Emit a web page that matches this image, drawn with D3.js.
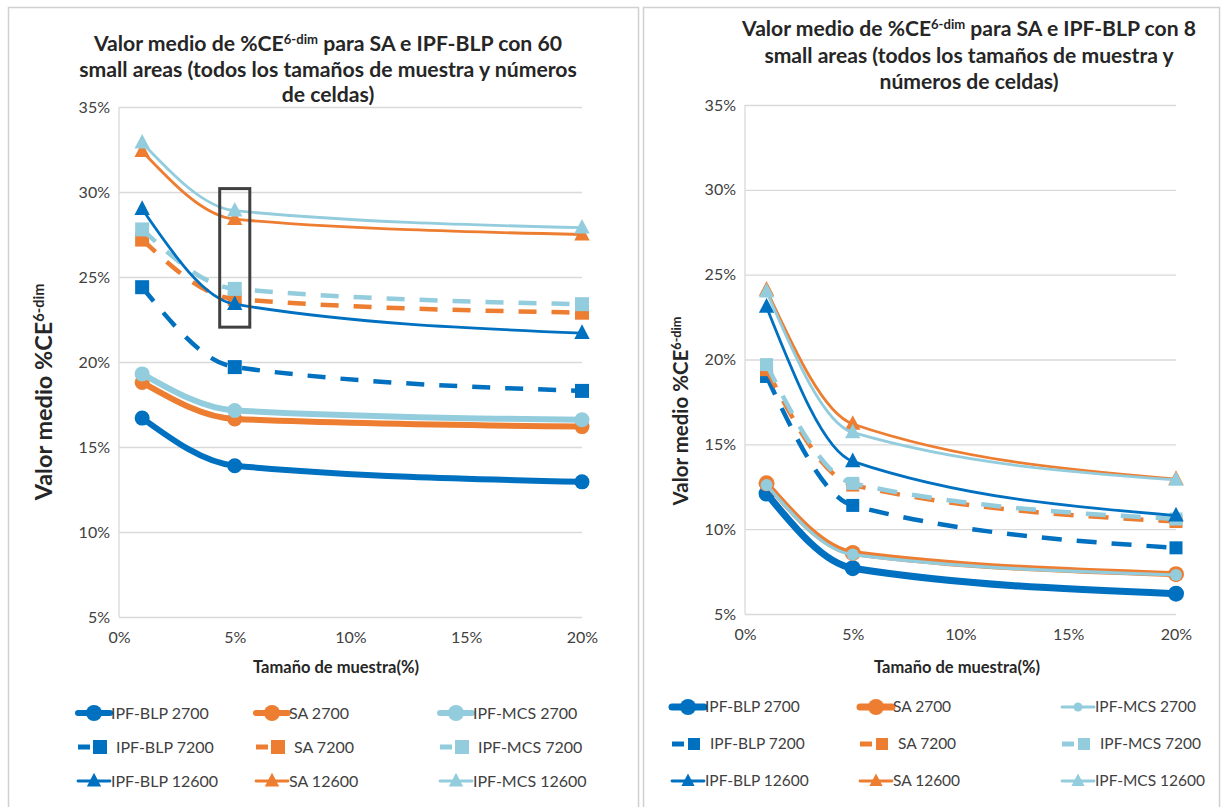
<!DOCTYPE html>
<html><head><meta charset="utf-8">
<script src="https://cdn.jsdelivr.net/npm/d3@7"></script>
<style>body{margin:0;background:#fff} text{font-family:Lato,"Open Sans",sans-serif}</style>
</head><body><svg id="c" width="1223" height="807"></svg>
<script>
// ---------- DATA ----------
const sampleSizes = [1, 5, 20];               // Tamaño de muestra (%)
const xTickValues = [0, 5, 10, 15, 20];
const yTickValues = [5, 10, 15, 20, 25, 30, 35];
const seriesNames = ["IPF-BLP 2700", "SA 2700", "IPF-MCS 2700",
                     "IPF-BLP 7200", "SA 7200", "IPF-MCS 7200",
                     "IPF-BLP 12600", "SA 12600", "IPF-MCS 12600"];
// 60 small areas
const a60_BLP_2700  = [16.7, 13.9, 12.95];
const a60_SA_2700   = [18.8, 16.65, 16.2];
const a60_MCS_2700  = [19.3, 17.15, 16.6];
const a60_BLP_7200  = [24.4, 19.7, 18.3];
const a60_SA_7200   = [27.2, 23.7, 22.9];
const a60_MCS_7200  = [27.8, 24.3, 23.4];
const a60_BLP_12600 = [29.0, 23.4, 21.7];
const a60_SA_12600  = [32.4, 28.4, 27.5];
const a60_MCS_12600 = [32.9, 28.9, 27.9];
// 8 small areas
const a8_BLP_2700  = [12.1, 7.7, 6.2];
const a8_SA_2700   = [12.7, 8.6, 7.35];
const a8_MCS_2700  = [12.6, 8.5, 7.3];
const a8_BLP_7200  = [19.0, 11.4, 8.9];
const a8_SA_7200   = [19.4, 12.6, 10.45];
const a8_MCS_7200  = [19.7, 12.7, 10.6];
const a8_BLP_12600 = [23.1, 14.0, 10.8];
const a8_SA_12600  = [24.1, 16.2, 12.95];
const a8_MCS_12600 = [24.0, 15.7, 12.9];
// highlighted box (data space) in the 60-area chart
const boxX = [4.35, 5.65];
const boxY = [30.2, 22.05];

const values60 = [a60_BLP_2700, a60_SA_2700, a60_MCS_2700, a60_BLP_7200, a60_SA_7200, a60_MCS_7200, a60_BLP_12600, a60_SA_12600, a60_MCS_12600];
const values8  = [a8_BLP_2700, a8_SA_2700, a8_MCS_2700, a8_BLP_7200, a8_SA_7200, a8_MCS_7200, a8_BLP_12600, a8_SA_12600, a8_MCS_12600];

// ---------- STYLE ----------
const colors = ["#0070C0", "#ED7D31", "#93CDDD"];
const markerOf = i => ["circle", "square", "triangle"][Math.floor(i / 3)];
const dashedOf = i => Math.floor(i / 3) === 1;

const svg = d3.select("#c");
svg.append("rect").attr("x", 8.5).attr("y", 7.5).attr("width", 630).attr("height", 820)
  .attr("fill", "none").attr("stroke", "#d0d0d0").attr("stroke-width", 1.5);
svg.append("rect").attr("x", 643.5).attr("y", 7.5).attr("width", 576).attr("height", 820)
  .attr("fill", "none").attr("stroke", "#d0d0d0").attr("stroke-width", 1.5);

function drawMarker(g, type, cx, cy, size, fill) {
  if (type === "circle") {
    g.append("circle").attr("cx", cx).attr("cy", cy).attr("r", size).attr("fill", fill);
  } else if (type === "square") {
    g.append("rect").attr("x", cx - size).attr("y", cy - size).attr("width", 2 * size).attr("height", 2 * size).attr("fill", fill);
  } else {
    const h = size * 2.1, w = size * 2.2;
    g.append("path").attr("d", `M${cx},${cy - h * 0.6}L${cx + w / 2},${cy + h * 0.4}L${cx - w / 2},${cy + h * 0.4}Z`).attr("fill", fill);
  }
}

function supText(t, parts) {
  let prevSup = false;
  parts.forEach(([s, sup]) => {
    const ts = t.append("tspan").text(s);
    if (sup) { ts.attr("font-size", "0.62em").attr("dy", "-0.55em"); }
    else if (prevSup) { ts.attr("dy", "0.34em"); }
    prevSup = sup;
  });
}

function fit(sel, target) {
  const fs = parseFloat(sel.attr("font-size"));
  const w = sel.node().getBBox().width;
  const nfs = fs * target / w;
  sel.attr("font-size", nfs);
  return nfs;
}

function drawPanel(cfg) {
  const g = svg.append("g");
  const x = d3.scaleLinear().domain([0, 20]).range([cfg.x0, cfg.x1]);
  const y = d3.scaleLinear().domain([5, 35]).range([cfg.yBot, cfg.yTop]);

  g.append("g").attr("transform", `translate(${cfg.x0},0)`)
    .call(d3.axisLeft(y).tickValues(yTickValues).tickSize(-(cfg.x1 - cfg.x0)).tickFormat(d => d + "%").tickPadding(cfg.yPad))
    .call(a => a.select(".domain").remove())
    .call(a => a.selectAll("line").attr("stroke", "#d9d9d9").attr("stroke-width", 1.3))
    .call(a => a.selectAll("text").attr("fill", "#404040").attr("font-size", 16).attr("font-family", "Lato"));
  g.append("line").attr("x1", cfg.x0).attr("x2", cfg.x0).attr("y1", y(35)).attr("y2", y(5))
    .attr("stroke", "#d9d9d9").attr("stroke-width", 1.3);
  g.append("g").attr("transform", `translate(0,${cfg.yBot})`)
    .call(d3.axisBottom(x).tickValues(xTickValues).tickSize(0).tickFormat(d => d + "%").tickPadding(cfg.xPad))
    .call(a => a.select(".domain").remove())
    .call(a => a.selectAll("text").attr("fill", "#404040").attr("font-size", 16).attr("font-family", "Lato"));

  const line = d3.line().x(d => x(d[0])).y(d => y(d[1])).curve(d3.curveMonotoneX);
  cfg.values.forEach((vals, i) => {
    const st = cfg.style(i);
    const pts = sampleSizes.map((s, k) => [s, vals[k]]);
    const sg = g.append("g");
    sg.append("path").attr("d", line(pts)).attr("fill", "none")
      .attr("stroke", colors[i % 3]).attr("stroke-width", st.lw)
      .attr("stroke-dasharray", dashedOf(i) ? st.dash : null)
      .attr("stroke-linecap", dashedOf(i) ? "butt" : "round")
      .attr("stroke-linejoin", "round");
    pts.forEach(p => drawMarker(sg, markerOf(i), x(p[0]), y(p[1]), st.ms, colors[i % 3]));
  });

  if (cfg.box) {
    g.append("rect").attr("x", x(boxX[0])).attr("y", y(boxY[0]))
      .attr("width", x(boxX[1]) - x(boxX[0])).attr("height", y(boxY[1]) - y(boxY[0]))
      .attr("fill", "none").attr("stroke", "#404040").attr("stroke-width", 3);
  }

  const tfs = [];
  cfg.title.forEach((parts, k) => {
    const t = svg.append("text").attr("x", cfg.titleX).attr("y", cfg.titleY[k])
      .attr("text-anchor", "middle").attr("font-weight", "bold").attr("font-size", 18).attr("fill", "#262626");
    supText(t, parts);
    tfs.push(t);
  });
  const nfs = fit(tfs[cfg.titleFitLine], cfg.titleFitWidth);
  tfs.forEach(t => t.attr("font-size", nfs));

  svg.append("text").attr("x", cfg.xTitleX).attr("y", cfg.xTitleY).attr("text-anchor", "middle")
    .attr("font-weight", "bold").attr("font-size", 16.5).attr("fill", "#262626").text("Tamaño de muestra(%)");
  const yt = svg.append("text").attr("transform", `translate(${cfg.yTitleX},${cfg.yTitleY}) rotate(-90)`)
    .attr("text-anchor", "middle").attr("font-weight", "bold").attr("font-size", 18).attr("fill", "#262626");
  supText(yt, [["Valor medio %CE", false], ["6-dim", true]]);
  fit(yt, cfg.yTitleLen);

  seriesNames.forEach((name, i) => {
    const col = i % 3, row = Math.floor(i / 3);
    const lx = cfg.legCols[col], ly = cfg.legRows[row];
    const st = cfg.legStyle(i);
    const lg = svg.append("g");
    lg.append("line").attr("x1", lx).attr("x2", lx + 32).attr("y1", ly).attr("y2", ly)
      .attr("stroke", colors[col]).attr("stroke-width", st.lw)
      .attr("stroke-dasharray", dashedOf(i) ? "12,40" : null)
      .attr("stroke-linecap", dashedOf(i) ? "butt" : "round");
    drawMarker(lg, markerOf(i), lx + (dashedOf(i) ? 22 : 16), ly, st.ms, colors[col]);
    lg.append("text").attr("x", lx + (dashedOf(i) ? 38 : 33)).attr("y", ly).attr("dy", "0.35em")
      .attr("font-size", cfg.legFs).attr("fill", "#404040").text(name);
  });
}

drawPanel({
  x0: 119, x1: 582, yTop: 107, yBot: 617, yPad: 9, xPad: 15,
  values: values60,
  style: i => [{lw: 6, ms: 7.5}, {lw: 4.5, ms: 7, dash: "18,15"}, {lw: 2.8, ms: 7}][Math.floor(i / 3)],
  legStyle: i => [{lw: 6, ms: 8}, {lw: 5, ms: 7}, {lw: 2.8, ms: 6.5}][Math.floor(i / 3)],
  box: true,
  title: [[["Valor medio de %CE", false], ["6-dim", true], [" para SA e IPF-BLP con 60", false]],
          [["small areas (todos los tamaños de muestra y números", false]],
          [["de celdas)", false]]],
  titleX: 328, titleY: [51, 77, 102], titleFitLine: 1, titleFitWidth: 498,
  xTitleX: 336, xTitleY: 673,
  yTitleX: 52, yTitleY: 392, yTitleLen: 218,
  legCols: [78, 256, 440], legRows: [713, 747, 781], legFs: 16
});

drawPanel({
  x0: 745, x1: 1176, yTop: 105, yBot: 614, yPad: 9, xPad: 15,
  values: values8,
  style: i => {
    const r = Math.floor(i / 3), c = i % 3;
    if (r === 0) return c === 0 ? {lw: 7, ms: 8} : c === 1 ? {lw: 6, ms: 8} : {lw: 3.2, ms: 6};
    if (r === 1) return {lw: 4.5, ms: 6.5, dash: "20,15"};
    return {lw: 2.8, ms: 7};
  },
  legStyle: i => {
    const r = Math.floor(i / 3), c = i % 3;
    if (r === 0) return c === 2 ? {lw: 3, ms: 4.5} : {lw: 7, ms: 8};
    if (r === 1) return {lw: 5, ms: 6};
    return {lw: 2.8, ms: 6};
  },
  box: false,
  title: [[["Valor medio de %CE", false], ["6-dim", true], [" para SA e IPF-BLP con 8", false]],
          [["small areas (todos los tamaños de muestra y", false]],
          [["números de celdas)", false]]],
  titleX: 969, titleY: [36, 63, 89], titleFitLine: 1, titleFitWidth: 410,
  xTitleX: 957, xTitleY: 673,
  yTitleX: 688, yTitleY: 411, yTitleLen: 190,
  legCols: [672, 860, 1062], legRows: [707, 744, 781], legFs: 15.5
});
</script></body></html>
